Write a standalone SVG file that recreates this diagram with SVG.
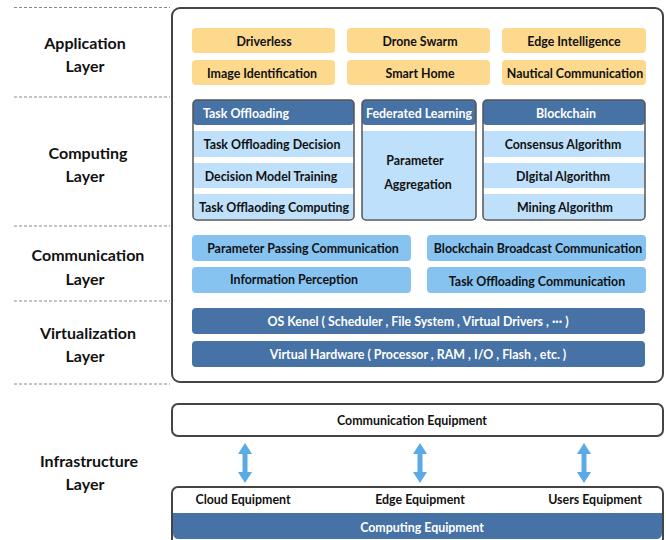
<svg xmlns="http://www.w3.org/2000/svg" width="666" height="540" viewBox="0 0 666 540">
<style>
text{font-family:Lato,"Noto Sans","Liberation Sans",sans-serif;font-weight:bold;text-anchor:middle;dominant-baseline:central}
.lbl{font-size:16px;fill:#111}
.t{font-size:12.4px;fill:#111}
.w{font-size:12.4px;fill:#fff}
.dash{stroke:#888;stroke-width:1;stroke-dasharray:3,2;fill:none}
.app{fill:#FDD98D}
.dk{fill:#4672A5}
.lt{fill:#BEE0FA}
.cm{fill:#86C3F1}
.pan{fill:none;stroke:#555;stroke-width:1.5}
.arr{fill:#5AAAE6}
</style>
<rect width="666" height="540" fill="#fff"/>
<g id="dividers">
<line class="dash" x1="14" y1="7.5" x2="170" y2="7.5"/>
<line class="dash" x1="14" y1="97" x2="170" y2="97"/>
<line class="dash" x1="14" y1="226" x2="170" y2="226"/>
<line class="dash" x1="14" y1="301" x2="170" y2="301"/>
<line class="dash" x1="14" y1="384" x2="170" y2="384"/>
</g>
<g id="layer-labels">
<text class="lbl" x="85" y="42">Application</text><text class="lbl" x="85" y="65">Layer</text>
<text class="lbl" x="88" y="152">Computing</text><text class="lbl" x="85" y="175">Layer</text>
<text class="lbl" x="88" y="254">Communication</text><text class="lbl" x="85" y="278">Layer</text>
<text class="lbl" x="88" y="332">Virtualization</text><text class="lbl" x="85" y="355">Layer</text>
<text class="lbl" x="89" y="460">Infrastructure</text><text class="lbl" x="85" y="483">Layer</text>
</g>
<g id="container"><rect x="172" y="8" width="491" height="374" rx="8" fill="#fff" stroke="#444" stroke-width="2"/></g>
<g id="application">
<rect class="app" x="192" y="28" width="143" height="25" rx="4"/><text class="t" x="264" y="41">Driverless</text>
<rect class="app" x="347" y="28" width="143" height="25" rx="4"/><text class="t" x="420" y="41">Drone Swarm</text>
<rect class="app" x="502" y="28" width="144" height="25" rx="4"/><text class="t" x="574" y="41">Edge Intelligence</text>
<rect class="app" x="192" y="60" width="143" height="25" rx="4"/><text class="t" x="262" y="73">Image Identification</text>
<rect class="app" x="347" y="60" width="143" height="25" rx="4"/><text class="t" x="420" y="73">Smart Home</text>
<rect class="app" x="502" y="60" width="144" height="25" rx="4"/><text class="t" x="575" y="73">Nautical Communication</text>
</g>
<g id="task-offloading">
<rect class="dk" x="193" y="100" width="161" height="25" rx="4"/>
<rect class="lt" x="193" y="131" width="161" height="26"/>
<rect class="lt" x="193" y="163" width="161" height="25"/>
<rect class="lt" x="193" y="194" width="161" height="25"/>
<rect class="pan" x="193" y="100" width="161" height="120" rx="4"/>
<text class="w" x="246" y="113">Task Offloading</text>
<text class="t" x="272" y="144">Task Offloading Decision</text>
<text class="t" x="271" y="176">Decision Model Training</text>
<text class="t" x="274" y="207">Task Offlaoding Computing</text>
</g>
<g id="federated-learning">
<rect class="dk" x="362" y="100" width="114" height="25" rx="4"/>
<rect class="lt" x="362" y="131" width="114" height="88"/>
<rect class="pan" x="362" y="100" width="114" height="120" rx="4"/>
<text class="w" x="419" y="113">Federated Learning</text>
<text class="t" x="415" y="160">Parameter</text>
<text class="t" x="418" y="184">Aggregation</text>
</g>
<g id="blockchain">
<rect class="dk" x="483" y="100" width="162" height="25" rx="4"/>
<rect class="lt" x="483" y="131" width="162" height="26"/>
<rect class="lt" x="483" y="163" width="162" height="25"/>
<rect class="lt" x="483" y="194" width="162" height="25"/>
<rect class="pan" x="483" y="100" width="162" height="120" rx="4"/>
<text class="w" x="566" y="113">Blockchain</text>
<text class="t" x="563" y="144">Consensus Algorithm</text>
<text class="t" x="563" y="176">DIgital Algorithm</text>
<text class="t" x="565" y="207">Mining Algorithm</text>
</g>
<g id="communication">
<rect class="cm" x="192" y="235" width="219" height="26" rx="4"/><text class="t" x="303" y="248">Parameter Passing Communication</text>
<rect class="cm" x="192" y="267" width="219" height="26" rx="4"/><text class="t" x="294" y="279">Information Perception</text>
<rect class="cm" x="427" y="235" width="219" height="26" rx="4"/><text class="t" x="538" y="248">Blockchain Broadcast Communication</text>
<rect class="cm" x="427" y="267" width="219" height="26" rx="4"/><text class="t" x="537" y="281">Task Offloading Communication</text>
</g>
<g id="virtualization">
<rect class="dk" x="192" y="308" width="453" height="26" rx="4"/><text class="w" x="418" y="321">OS Kenel ( Scheduler , File System , Virtual Drivers , ··· )</text>
<rect class="dk" x="192" y="341" width="453" height="26" rx="4"/><text class="w" x="418" y="354">Virtual Hardware ( Processor , RAM , I/O , Flash , etc. )</text>
</g>
<g id="communication-equipment">
<rect x="172" y="404" width="491" height="32" rx="6" fill="#fff" stroke="#444" stroke-width="2"/>
<text class="t" x="412" y="420">Communication Equipment</text>
</g>
<g id="computing-equipment">
<rect x="172" y="487" width="491" height="60" rx="6" fill="#fff" stroke="#444" stroke-width="2"/>
<path class="dk" d="M173,513 H662 V533 Q662,539 656,539 H179 Q173,539 173,533 Z"/>
<text class="t" x="243" y="499">Cloud Equipment</text>
<text class="t" x="420" y="499">Edge Equipment</text>
<text class="t" x="595" y="499">Users Equipment</text>
<text class="w" x="422" y="527">Computing Equipment</text>
</g>
<g id="connectors">
<path class="arr" d="M245,443 L252,454 H247.5 V472 H252 L245,483 L238,472 H242.5 V454 H238 Z"/>
<path class="arr" d="M420,443 L427,454 H422.5 V472 H427 L420,483 L413,472 H417.5 V454 H413 Z"/>
<path class="arr" d="M584,443 L591,454 H586.5 V472 H591 L584,483 L577,472 H581.5 V454 H577 Z"/>
</g>
</svg>
